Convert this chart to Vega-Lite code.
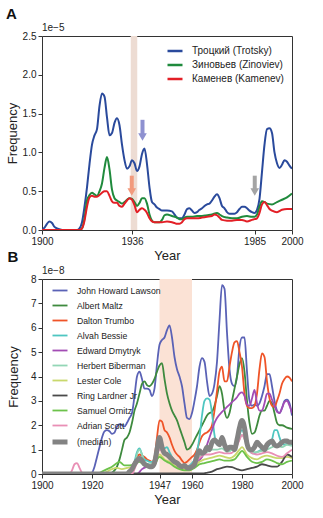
{
"$schema": "https://vega.github.io/schema/vega-lite/v6.json",
"background": "white",
"padding": {"left": 5, "top": 6, "right": 5, "bottom": 2},
"spacing": -14,
"resolve": {"scale": {"color": "independent", "strokeWidth": "independent", "stroke": "independent", "fill": "independent", "x": "independent", "y": "independent"}},
"config": {
  "font": "Liberation Sans",
  "view": {"stroke": "#333", "strokeWidth": 1},
  "axis": {"grid": false, "domain": false, "tickColor": "#333", "tickSize": 4, "labelFontSize": 10, "labelColor": "#222", "titleFontSize": 13, "titleFontWeight": "normal", "titleColor": "#222", "labelPadding": 2, "labelFlush": false, "labelOverlap": false},
  "title": {"anchor": "start", "frame": "bounds", "fontSize": 15, "fontWeight": "bold", "color": "#111", "offset": 1},
  "legend": {"orient": "none", "title": null, "symbolType": "stroke", "rowPadding": 0, "labelColor": "#222"}
},
"datasets": {
  "a": [
{"s":"Троцкий (Trotsky)","x":1900,"y":0},{"s":"Троцкий (Trotsky)","x":1901,"y":0.03},{"s":"Троцкий (Trotsky)","x":1902,"y":0.08},{"s":"Троцкий (Trotsky)","x":1903,"y":0.11},{"s":"Троцкий (Trotsky)","x":1904,"y":0.09},{"s":"Троцкий (Trotsky)","x":1905,"y":0.04},{"s":"Троцкий (Trotsky)","x":1906,"y":0.02},{"s":"Троцкий (Trotsky)","x":1907,"y":0.01},{"s":"Троцкий (Trotsky)","x":1908,"y":0},{"s":"Троцкий (Trotsky)","x":1912,"y":0},{"s":"Троцкий (Trotsky)","x":1914,"y":0},{"s":"Троцкий (Trotsky)","x":1915,"y":0.02},{"s":"Троцкий (Trotsky)","x":1916,"y":0.1},{"s":"Троцкий (Trotsky)","x":1917,"y":0.3},{"s":"Троцкий (Trotsky)","x":1918,"y":0.55},{"s":"Троцкий (Trotsky)","x":1919,"y":0.85},{"s":"Троцкий (Trotsky)","x":1920,"y":1.1},{"s":"Троцкий (Trotsky)","x":1921,"y":1.22},{"s":"Троцкий (Trotsky)","x":1922,"y":1.3},{"s":"Троцкий (Trotsky)","x":1923,"y":1.6},{"s":"Троцкий (Trotsky)","x":1924,"y":1.76},{"s":"Троцкий (Trotsky)","x":1925,"y":1.72},{"s":"Троцкий (Trotsky)","x":1926,"y":1.45},{"s":"Троцкий (Trotsky)","x":1927,"y":1.22},{"s":"Троцкий (Trotsky)","x":1928,"y":1.25},{"s":"Троцкий (Trotsky)","x":1929,"y":1.38},{"s":"Троцкий (Trotsky)","x":1930,"y":1.44},{"s":"Троцкий (Trotsky)","x":1931,"y":1.35},{"s":"Троцкий (Trotsky)","x":1932,"y":1.1},{"s":"Троцкий (Trotsky)","x":1933,"y":0.9},{"s":"Троцкий (Trotsky)","x":1934,"y":0.79},{"s":"Троцкий (Trotsky)","x":1935,"y":0.82},{"s":"Троцкий (Trotsky)","x":1936,"y":0.9},{"s":"Троцкий (Trotsky)","x":1937,"y":0.86},{"s":"Троцкий (Trotsky)","x":1938,"y":0.76},{"s":"Троцкий (Trotsky)","x":1939,"y":0.82},{"s":"Троцкий (Trotsky)","x":1940,"y":0.98},{"s":"Троцкий (Trotsky)","x":1941,"y":1.05},{"s":"Троцкий (Trotsky)","x":1942,"y":0.85},{"s":"Троцкий (Trotsky)","x":1943,"y":0.55},{"s":"Троцкий (Trotsky)","x":1944,"y":0.36},{"s":"Троцкий (Trotsky)","x":1945,"y":0.33},{"s":"Троцкий (Trotsky)","x":1946,"y":0.29},{"s":"Троцкий (Trotsky)","x":1947,"y":0.27},{"s":"Троцкий (Trotsky)","x":1948,"y":0.25},{"s":"Троцкий (Trotsky)","x":1950,"y":0.25},{"s":"Троцкий (Trotsky)","x":1952,"y":0.24},{"s":"Троцкий (Trotsky)","x":1953,"y":0.2},{"s":"Троцкий (Trotsky)","x":1954,"y":0.16},{"s":"Троцкий (Trotsky)","x":1955,"y":0.15},{"s":"Троцкий (Trotsky)","x":1956,"y":0.15},{"s":"Троцкий (Trotsky)","x":1957,"y":0.2},{"s":"Троцкий (Trotsky)","x":1958,"y":0.27},{"s":"Троцкий (Trotsky)","x":1959,"y":0.28},{"s":"Троцкий (Trotsky)","x":1960,"y":0.25},{"s":"Троцкий (Trotsky)","x":1961,"y":0.22},{"s":"Троцкий (Trotsky)","x":1962,"y":0.23},{"s":"Троцкий (Trotsky)","x":1963,"y":0.26},{"s":"Троцкий (Trotsky)","x":1964,"y":0.28},{"s":"Троцкий (Trotsky)","x":1965,"y":0.31},{"s":"Троцкий (Trotsky)","x":1966,"y":0.33},{"s":"Троцкий (Trotsky)","x":1967,"y":0.34},{"s":"Троцкий (Trotsky)","x":1968,"y":0.38},{"s":"Троцкий (Trotsky)","x":1969,"y":0.43},{"s":"Троцкий (Trotsky)","x":1970,"y":0.46},{"s":"Троцкий (Trotsky)","x":1971,"y":0.41},{"s":"Троцкий (Trotsky)","x":1972,"y":0.31},{"s":"Троцкий (Trotsky)","x":1973,"y":0.28},{"s":"Троцкий (Trotsky)","x":1974,"y":0.23},{"s":"Троцкий (Trotsky)","x":1975,"y":0.21},{"s":"Троцкий (Trotsky)","x":1977,"y":0.21},{"s":"Троцкий (Trotsky)","x":1978,"y":0.23},{"s":"Троцкий (Trotsky)","x":1979,"y":0.27},{"s":"Троцкий (Trotsky)","x":1980,"y":0.3},{"s":"Троцкий (Trotsky)","x":1981,"y":0.3},{"s":"Троцкий (Trotsky)","x":1982,"y":0.28},{"s":"Троцкий (Trotsky)","x":1983,"y":0.25},{"s":"Троцкий (Trotsky)","x":1984,"y":0.23},{"s":"Троцкий (Trotsky)","x":1985,"y":0.22},{"s":"Троцкий (Trotsky)","x":1986,"y":0.26},{"s":"Троцкий (Trotsky)","x":1987,"y":0.4},{"s":"Троцкий (Trotsky)","x":1988,"y":0.75},{"s":"Троцкий (Trotsky)","x":1989,"y":1.1},{"s":"Троцкий (Trotsky)","x":1990,"y":1.3},{"s":"Троцкий (Trotsky)","x":1991,"y":1.31},{"s":"Троцкий (Trotsky)","x":1992,"y":1.25},{"s":"Троцкий (Trotsky)","x":1993,"y":1.0},{"s":"Троцкий (Trotsky)","x":1994,"y":0.86},{"s":"Троцкий (Trotsky)","x":1995,"y":0.8},{"s":"Троцкий (Trotsky)","x":1996,"y":0.84},{"s":"Троцкий (Trotsky)","x":1997,"y":0.9},{"s":"Троцкий (Trotsky)","x":1998,"y":0.88},{"s":"Троцкий (Trotsky)","x":1999,"y":0.83},{"s":"Троцкий (Trotsky)","x":2000,"y":0.79},
{"s":"Зиновьев (Zinoviev)","x":1900,"y":0},{"s":"Зиновьев (Zinoviev)","x":1915,"y":0},{"s":"Зиновьев (Zinoviev)","x":1916,"y":0.02},{"s":"Зиновьев (Zinoviev)","x":1917,"y":0.15},{"s":"Зиновьев (Zinoviev)","x":1918,"y":0.38},{"s":"Зиновьев (Zinoviev)","x":1919,"y":0.45},{"s":"Зиновьев (Zinoviev)","x":1920,"y":0.48},{"s":"Зиновьев (Zinoviev)","x":1921,"y":0.46},{"s":"Зиновьев (Zinoviev)","x":1922,"y":0.44},{"s":"Зиновьев (Zinoviev)","x":1923,"y":0.5},{"s":"Зиновьев (Zinoviev)","x":1924,"y":0.6},{"s":"Зиновьев (Zinoviev)","x":1925,"y":0.8},{"s":"Зиновьев (Zinoviev)","x":1926,"y":0.94},{"s":"Зиновьев (Zinoviev)","x":1927,"y":0.78},{"s":"Зиновьев (Zinoviev)","x":1928,"y":0.52},{"s":"Зиновьев (Zinoviev)","x":1929,"y":0.41},{"s":"Зиновьев (Zinoviev)","x":1930,"y":0.38},{"s":"Зиновьев (Zinoviev)","x":1931,"y":0.36},{"s":"Зиновьев (Zinoviev)","x":1932,"y":0.34},{"s":"Зиновьев (Zinoviev)","x":1933,"y":0.36},{"s":"Зиновьев (Zinoviev)","x":1934,"y":0.39},{"s":"Зиновьев (Zinoviev)","x":1935,"y":0.41},{"s":"Зиновьев (Zinoviev)","x":1936,"y":0.4},{"s":"Зиновьев (Zinoviev)","x":1937,"y":0.36},{"s":"Зиновьев (Zinoviev)","x":1938,"y":0.31},{"s":"Зиновьев (Zinoviev)","x":1939,"y":0.35},{"s":"Зиновьев (Zinoviev)","x":1940,"y":0.41},{"s":"Зиновьев (Zinoviev)","x":1941,"y":0.41},{"s":"Зиновьев (Zinoviev)","x":1942,"y":0.34},{"s":"Зиновьев (Zinoviev)","x":1943,"y":0.2},{"s":"Зиновьев (Zinoviev)","x":1944,"y":0.12},{"s":"Зиновьев (Zinoviev)","x":1945,"y":0.1},{"s":"Зиновьев (Zinoviev)","x":1947,"y":0.1},{"s":"Зиновьев (Zinoviev)","x":1948,"y":0.13},{"s":"Зиновьев (Zinoviev)","x":1949,"y":0.19},{"s":"Зиновьев (Zinoviev)","x":1950,"y":0.2},{"s":"Зиновьев (Zinoviev)","x":1952,"y":0.18},{"s":"Зиновьев (Zinoviev)","x":1954,"y":0.16},{"s":"Зиновьев (Zinoviev)","x":1955,"y":0.14},{"s":"Зиновьев (Zinoviev)","x":1956,"y":0.14},{"s":"Зиновьев (Zinoviev)","x":1957,"y":0.16},{"s":"Зиновьев (Zinoviev)","x":1958,"y":0.17},{"s":"Зиновьев (Zinoviev)","x":1960,"y":0.17},{"s":"Зиновьев (Zinoviev)","x":1962,"y":0.18},{"s":"Зиновьев (Zinoviev)","x":1964,"y":0.18},{"s":"Зиновьев (Zinoviev)","x":1966,"y":0.19},{"s":"Зиновьев (Zinoviev)","x":1968,"y":0.2},{"s":"Зиновьев (Zinoviev)","x":1970,"y":0.22},{"s":"Зиновьев (Zinoviev)","x":1971,"y":0.2},{"s":"Зиновьев (Zinoviev)","x":1972,"y":0.18},{"s":"Зиновьев (Zinoviev)","x":1974,"y":0.16},{"s":"Зиновьев (Zinoviev)","x":1976,"y":0.15},{"s":"Зиновьев (Zinoviev)","x":1978,"y":0.15},{"s":"Зиновьев (Zinoviev)","x":1980,"y":0.17},{"s":"Зиновьев (Zinoviev)","x":1982,"y":0.18},{"s":"Зиновьев (Zinoviev)","x":1984,"y":0.17},{"s":"Зиновьев (Zinoviev)","x":1985,"y":0.17},{"s":"Зиновьев (Zinoviev)","x":1986,"y":0.2},{"s":"Зиновьев (Zinoviev)","x":1987,"y":0.3},{"s":"Зиновьев (Zinoviev)","x":1988,"y":0.37},{"s":"Зиновьев (Zinoviev)","x":1989,"y":0.36},{"s":"Зиновьев (Zinoviev)","x":1990,"y":0.34},{"s":"Зиновьев (Zinoviev)","x":1992,"y":0.33},{"s":"Зиновьев (Zinoviev)","x":1994,"y":0.36},{"s":"Зиновьев (Zinoviev)","x":1996,"y":0.39},{"s":"Зиновьев (Zinoviev)","x":1998,"y":0.42},{"s":"Зиновьев (Zinoviev)","x":2000,"y":0.47},
{"s":"Каменев (Kamenev)","x":1900,"y":0},{"s":"Каменев (Kamenev)","x":1915,"y":0},{"s":"Каменев (Kamenev)","x":1916,"y":0.02},{"s":"Каменев (Kamenev)","x":1917,"y":0.12},{"s":"Каменев (Kamenev)","x":1918,"y":0.3},{"s":"Каменев (Kamenev)","x":1919,"y":0.42},{"s":"Каменев (Kamenev)","x":1920,"y":0.44},{"s":"Каменев (Kamenev)","x":1921,"y":0.43},{"s":"Каменев (Kamenev)","x":1922,"y":0.43},{"s":"Каменев (Kamenev)","x":1923,"y":0.45},{"s":"Каменев (Kamenev)","x":1924,"y":0.48},{"s":"Каменев (Kamenev)","x":1925,"y":0.5},{"s":"Каменев (Kamenev)","x":1926,"y":0.5},{"s":"Каменев (Kamenev)","x":1927,"y":0.44},{"s":"Каменев (Kamenev)","x":1928,"y":0.37},{"s":"Каменев (Kamenev)","x":1929,"y":0.35},{"s":"Каменев (Kamenev)","x":1930,"y":0.35},{"s":"Каменев (Kamenev)","x":1931,"y":0.31},{"s":"Каменев (Kamenev)","x":1932,"y":0.3},{"s":"Каменев (Kamenev)","x":1933,"y":0.34},{"s":"Каменев (Kamenev)","x":1934,"y":0.38},{"s":"Каменев (Kamenev)","x":1935,"y":0.41},{"s":"Каменев (Kamenev)","x":1936,"y":0.39},{"s":"Каменев (Kamenev)","x":1937,"y":0.32},{"s":"Каменев (Kamenev)","x":1938,"y":0.23},{"s":"Каменев (Kamenev)","x":1939,"y":0.26},{"s":"Каменев (Kamenev)","x":1940,"y":0.28},{"s":"Каменев (Kamenev)","x":1941,"y":0.26},{"s":"Каменев (Kamenev)","x":1942,"y":0.22},{"s":"Каменев (Kamenev)","x":1943,"y":0.15},{"s":"Каменев (Kamenev)","x":1944,"y":0.11},{"s":"Каменев (Kamenev)","x":1945,"y":0.1},{"s":"Каменев (Kamenev)","x":1948,"y":0.1},{"s":"Каменев (Kamenev)","x":1950,"y":0.11},{"s":"Каменев (Kamenev)","x":1952,"y":0.1},{"s":"Каменев (Kamenev)","x":1953,"y":0.09},{"s":"Каменев (Kamenev)","x":1954,"y":0.08},{"s":"Каменев (Kamenev)","x":1955,"y":0.08},{"s":"Каменев (Kamenev)","x":1956,"y":0.1},{"s":"Каменев (Kamenev)","x":1957,"y":0.14},{"s":"Каменев (Kamenev)","x":1958,"y":0.15},{"s":"Каменев (Kamenev)","x":1960,"y":0.15},{"s":"Каменев (Kamenev)","x":1962,"y":0.15},{"s":"Каменев (Kamenev)","x":1964,"y":0.16},{"s":"Каменев (Kamenev)","x":1966,"y":0.17},{"s":"Каменев (Kamenev)","x":1968,"y":0.18},{"s":"Каменев (Kamenev)","x":1969,"y":0.2},{"s":"Каменев (Kamenev)","x":1970,"y":0.19},{"s":"Каменев (Kamenev)","x":1971,"y":0.16},{"s":"Каменев (Kamenev)","x":1972,"y":0.13},{"s":"Каменев (Kamenev)","x":1974,"y":0.12},{"s":"Каменев (Kamenev)","x":1976,"y":0.12},{"s":"Каменев (Kamenev)","x":1978,"y":0.13},{"s":"Каменев (Kamenev)","x":1980,"y":0.13},{"s":"Каменев (Kamenev)","x":1982,"y":0.11},{"s":"Каменев (Kamenev)","x":1984,"y":0.13},{"s":"Каменев (Kamenev)","x":1985,"y":0.14},{"s":"Каменев (Kamenev)","x":1986,"y":0.15},{"s":"Каменев (Kamenev)","x":1987,"y":0.22},{"s":"Каменев (Kamenev)","x":1988,"y":0.33},{"s":"Каменев (Kamenev)","x":1989,"y":0.36},{"s":"Каменев (Kamenev)","x":1990,"y":0.32},{"s":"Каменев (Kamenev)","x":1991,"y":0.27},{"s":"Каменев (Kamenev)","x":1992,"y":0.25},{"s":"Каменев (Kamenev)","x":1994,"y":0.23},{"s":"Каменев (Kamenev)","x":1996,"y":0.26},{"s":"Каменев (Kamenev)","x":1998,"y":0.27},{"s":"Каменев (Kamenev)","x":2000,"y":0.27}
  ],
  "arrows": [
    {"k":"Trotsky","x":1940.2,"y":1.42,"y2":1.23,"yh":1.2},
    {"k":"Kamenev","x":1935.9,"y":0.7,"y2":0.51,"yh":0.49},
    {"k":"1985","x":1985.1,"y":0.7,"y2":0.51,"yh":0.49}
  ],
  "b": [
{"s":"John Howard Lawson","x":1900,"y":0},{"s":"John Howard Lawson","x":1919,"y":0},{"s":"John Howard Lawson","x":1920,"y":0.05},{"s":"John Howard Lawson","x":1921,"y":0.3},{"s":"John Howard Lawson","x":1922,"y":0.7},{"s":"John Howard Lawson","x":1923,"y":1.1},{"s":"John Howard Lawson","x":1924,"y":1.5},{"s":"John Howard Lawson","x":1925,"y":1.75},{"s":"John Howard Lawson","x":1926,"y":1.8},{"s":"John Howard Lawson","x":1927,"y":1.75},{"s":"John Howard Lawson","x":1928,"y":1.65},{"s":"John Howard Lawson","x":1929,"y":1.7},{"s":"John Howard Lawson","x":1930,"y":1.95},{"s":"John Howard Lawson","x":1931,"y":2.05},{"s":"John Howard Lawson","x":1932,"y":2.0},{"s":"John Howard Lawson","x":1933,"y":1.95},{"s":"John Howard Lawson","x":1934,"y":2.1},{"s":"John Howard Lawson","x":1935,"y":2.3},{"s":"John Howard Lawson","x":1936,"y":2.5},{"s":"John Howard Lawson","x":1937,"y":3.2},{"s":"John Howard Lawson","x":1938,"y":4.0},{"s":"John Howard Lawson","x":1939,"y":4.2},{"s":"John Howard Lawson","x":1940,"y":3.9},{"s":"John Howard Lawson","x":1941,"y":3.5},{"s":"John Howard Lawson","x":1942,"y":3.5},{"s":"John Howard Lawson","x":1943,"y":3.45},{"s":"John Howard Lawson","x":1944,"y":3.2},{"s":"John Howard Lawson","x":1945,"y":3.5},{"s":"John Howard Lawson","x":1946,"y":4.5},{"s":"John Howard Lawson","x":1947,"y":5.3},{"s":"John Howard Lawson","x":1948,"y":5.5},{"s":"John Howard Lawson","x":1949,"y":5.6},{"s":"John Howard Lawson","x":1950,"y":5.9},{"s":"John Howard Lawson","x":1951,"y":6.1},{"s":"John Howard Lawson","x":1952,"y":5.6},{"s":"John Howard Lawson","x":1953,"y":4.8},{"s":"John Howard Lawson","x":1954,"y":4.3},{"s":"John Howard Lawson","x":1955,"y":4.0},{"s":"John Howard Lawson","x":1956,"y":3.6},{"s":"John Howard Lawson","x":1957,"y":2.9},{"s":"John Howard Lawson","x":1958,"y":2.3},{"s":"John Howard Lawson","x":1959,"y":2.25},{"s":"John Howard Lawson","x":1960,"y":2.5},{"s":"John Howard Lawson","x":1961,"y":3.0},{"s":"John Howard Lawson","x":1962,"y":3.6},{"s":"John Howard Lawson","x":1963,"y":4.4},{"s":"John Howard Lawson","x":1964,"y":4.75},{"s":"John Howard Lawson","x":1965,"y":4.6},{"s":"John Howard Lawson","x":1966,"y":3.8},{"s":"John Howard Lawson","x":1967,"y":3.2},{"s":"John Howard Lawson","x":1968,"y":3.3},{"s":"John Howard Lawson","x":1969,"y":3.7},{"s":"John Howard Lawson","x":1970,"y":4.6},{"s":"John Howard Lawson","x":1971,"y":6.3},{"s":"John Howard Lawson","x":1972,"y":7.75},{"s":"John Howard Lawson","x":1973,"y":7.6},{"s":"John Howard Lawson","x":1974,"y":5.8},{"s":"John Howard Lawson","x":1975,"y":4.3},{"s":"John Howard Lawson","x":1976,"y":3.7},{"s":"John Howard Lawson","x":1977,"y":3.6},{"s":"John Howard Lawson","x":1978,"y":4.0},{"s":"John Howard Lawson","x":1979,"y":5.2},{"s":"John Howard Lawson","x":1980,"y":5.6},{"s":"John Howard Lawson","x":1981,"y":5.6},{"s":"John Howard Lawson","x":1982,"y":4.2},{"s":"John Howard Lawson","x":1983,"y":3.0},{"s":"John Howard Lawson","x":1984,"y":2.8},{"s":"John Howard Lawson","x":1985,"y":2.85},{"s":"John Howard Lawson","x":1986,"y":2.8},{"s":"John Howard Lawson","x":1987,"y":2.9},{"s":"John Howard Lawson","x":1988,"y":3.2},{"s":"John Howard Lawson","x":1989,"y":3.6},{"s":"John Howard Lawson","x":1990,"y":4.1},{"s":"John Howard Lawson","x":1991,"y":4.1},{"s":"John Howard Lawson","x":1992,"y":3.6},{"s":"John Howard Lawson","x":1993,"y":3.0},{"s":"John Howard Lawson","x":1994,"y":2.6},{"s":"John Howard Lawson","x":1995,"y":2.5},{"s":"John Howard Lawson","x":1996,"y":2.7},{"s":"John Howard Lawson","x":1997,"y":3.0},{"s":"John Howard Lawson","x":1998,"y":3.05},{"s":"John Howard Lawson","x":1999,"y":2.9},{"s":"John Howard Lawson","x":2000,"y":2.4},
{"s":"Albert Maltz","x":1900,"y":0},{"s":"Albert Maltz","x":1927,"y":0},{"s":"Albert Maltz","x":1928,"y":0.05},{"s":"Albert Maltz","x":1929,"y":0.15},{"s":"Albert Maltz","x":1930,"y":0.3},{"s":"Albert Maltz","x":1931,"y":0.6},{"s":"Albert Maltz","x":1932,"y":1.0},{"s":"Albert Maltz","x":1933,"y":1.4},{"s":"Albert Maltz","x":1934,"y":1.5},{"s":"Albert Maltz","x":1935,"y":1.7},{"s":"Albert Maltz","x":1936,"y":2.1},{"s":"Albert Maltz","x":1937,"y":2.6},{"s":"Albert Maltz","x":1938,"y":2.9},{"s":"Albert Maltz","x":1939,"y":3.3},{"s":"Albert Maltz","x":1940,"y":3.7},{"s":"Albert Maltz","x":1941,"y":3.8},{"s":"Albert Maltz","x":1942,"y":3.65},{"s":"Albert Maltz","x":1943,"y":3.6},{"s":"Albert Maltz","x":1944,"y":3.7},{"s":"Albert Maltz","x":1945,"y":3.9},{"s":"Albert Maltz","x":1946,"y":4.2},{"s":"Albert Maltz","x":1947,"y":4.45},{"s":"Albert Maltz","x":1948,"y":4.55},{"s":"Albert Maltz","x":1949,"y":3.9},{"s":"Albert Maltz","x":1950,"y":3.3},{"s":"Albert Maltz","x":1951,"y":2.9},{"s":"Albert Maltz","x":1952,"y":2.6},{"s":"Albert Maltz","x":1953,"y":2.4},{"s":"Albert Maltz","x":1954,"y":2.2},{"s":"Albert Maltz","x":1955,"y":1.9},{"s":"Albert Maltz","x":1956,"y":1.6},{"s":"Albert Maltz","x":1957,"y":1.3},{"s":"Albert Maltz","x":1958,"y":1.0},{"s":"Albert Maltz","x":1959,"y":1.05},{"s":"Albert Maltz","x":1960,"y":1.2},{"s":"Albert Maltz","x":1961,"y":1.4},{"s":"Albert Maltz","x":1962,"y":1.6},{"s":"Albert Maltz","x":1963,"y":1.8},{"s":"Albert Maltz","x":1964,"y":2.0},{"s":"Albert Maltz","x":1965,"y":2.2},{"s":"Albert Maltz","x":1966,"y":2.4},{"s":"Albert Maltz","x":1967,"y":2.5},{"s":"Albert Maltz","x":1968,"y":2.55},{"s":"Albert Maltz","x":1969,"y":2.8},{"s":"Albert Maltz","x":1970,"y":3.2},{"s":"Albert Maltz","x":1971,"y":3.6},{"s":"Albert Maltz","x":1972,"y":3.3},{"s":"Albert Maltz","x":1973,"y":2.6},{"s":"Albert Maltz","x":1974,"y":2.3},{"s":"Albert Maltz","x":1975,"y":2.5},{"s":"Albert Maltz","x":1976,"y":3.0},{"s":"Albert Maltz","x":1977,"y":3.5},{"s":"Albert Maltz","x":1978,"y":4.0},{"s":"Albert Maltz","x":1979,"y":4.5},{"s":"Albert Maltz","x":1980,"y":4.75},{"s":"Albert Maltz","x":1981,"y":4.2},{"s":"Albert Maltz","x":1982,"y":3.0},{"s":"Albert Maltz","x":1983,"y":2.1},{"s":"Albert Maltz","x":1984,"y":1.65},{"s":"Albert Maltz","x":1985,"y":1.7},{"s":"Albert Maltz","x":1986,"y":2.0},{"s":"Albert Maltz","x":1987,"y":2.4},{"s":"Albert Maltz","x":1988,"y":2.6},{"s":"Albert Maltz","x":1989,"y":2.6},{"s":"Albert Maltz","x":1990,"y":2.8},{"s":"Albert Maltz","x":1991,"y":3.0},{"s":"Albert Maltz","x":1992,"y":2.9},{"s":"Albert Maltz","x":1993,"y":2.5},{"s":"Albert Maltz","x":1994,"y":2.1},{"s":"Albert Maltz","x":1995,"y":2.0},{"s":"Albert Maltz","x":1996,"y":2.0},{"s":"Albert Maltz","x":1998,"y":1.9},{"s":"Albert Maltz","x":2000,"y":1.85},
{"s":"Dalton Trumbo","x":1900,"y":0},{"s":"Dalton Trumbo","x":1934,"y":0},{"s":"Dalton Trumbo","x":1935,"y":0.1},{"s":"Dalton Trumbo","x":1936,"y":0.3},{"s":"Dalton Trumbo","x":1937,"y":0.5},{"s":"Dalton Trumbo","x":1938,"y":0.7},{"s":"Dalton Trumbo","x":1939,"y":0.8},{"s":"Dalton Trumbo","x":1940,"y":0.75},{"s":"Dalton Trumbo","x":1941,"y":0.7},{"s":"Dalton Trumbo","x":1942,"y":0.6},{"s":"Dalton Trumbo","x":1943,"y":0.55},{"s":"Dalton Trumbo","x":1944,"y":0.5},{"s":"Dalton Trumbo","x":1945,"y":0.7},{"s":"Dalton Trumbo","x":1946,"y":1.5},{"s":"Dalton Trumbo","x":1947,"y":2.2},{"s":"Dalton Trumbo","x":1948,"y":2.15},{"s":"Dalton Trumbo","x":1949,"y":1.8},{"s":"Dalton Trumbo","x":1950,"y":1.7},{"s":"Dalton Trumbo","x":1951,"y":1.5},{"s":"Dalton Trumbo","x":1952,"y":1.2},{"s":"Dalton Trumbo","x":1953,"y":0.95},{"s":"Dalton Trumbo","x":1954,"y":0.8},{"s":"Dalton Trumbo","x":1955,"y":0.7},{"s":"Dalton Trumbo","x":1956,"y":0.55},{"s":"Dalton Trumbo","x":1957,"y":0.45},{"s":"Dalton Trumbo","x":1958,"y":0.5},{"s":"Dalton Trumbo","x":1959,"y":0.6},{"s":"Dalton Trumbo","x":1960,"y":0.7},{"s":"Dalton Trumbo","x":1961,"y":0.8},{"s":"Dalton Trumbo","x":1962,"y":1.0},{"s":"Dalton Trumbo","x":1963,"y":1.3},{"s":"Dalton Trumbo","x":1964,"y":1.55},{"s":"Dalton Trumbo","x":1965,"y":1.65},{"s":"Dalton Trumbo","x":1966,"y":1.7},{"s":"Dalton Trumbo","x":1967,"y":1.8},{"s":"Dalton Trumbo","x":1968,"y":2.0},{"s":"Dalton Trumbo","x":1969,"y":2.6},{"s":"Dalton Trumbo","x":1970,"y":3.4},{"s":"Dalton Trumbo","x":1971,"y":4.2},{"s":"Dalton Trumbo","x":1972,"y":4.4},{"s":"Dalton Trumbo","x":1973,"y":3.8},{"s":"Dalton Trumbo","x":1974,"y":3.8},{"s":"Dalton Trumbo","x":1975,"y":4.4},{"s":"Dalton Trumbo","x":1976,"y":5.0},{"s":"Dalton Trumbo","x":1977,"y":5.4},{"s":"Dalton Trumbo","x":1978,"y":5.45},{"s":"Dalton Trumbo","x":1979,"y":5.0},{"s":"Dalton Trumbo","x":1980,"y":4.4},{"s":"Dalton Trumbo","x":1981,"y":3.3},{"s":"Dalton Trumbo","x":1982,"y":2.8},{"s":"Dalton Trumbo","x":1983,"y":2.7},{"s":"Dalton Trumbo","x":1984,"y":2.7},{"s":"Dalton Trumbo","x":1985,"y":2.8},{"s":"Dalton Trumbo","x":1986,"y":3.3},{"s":"Dalton Trumbo","x":1987,"y":4.3},{"s":"Dalton Trumbo","x":1988,"y":4.95},{"s":"Dalton Trumbo","x":1989,"y":4.8},{"s":"Dalton Trumbo","x":1990,"y":3.8},{"s":"Dalton Trumbo","x":1991,"y":3.1},{"s":"Dalton Trumbo","x":1992,"y":2.8},{"s":"Dalton Trumbo","x":1993,"y":2.75},{"s":"Dalton Trumbo","x":1994,"y":3.0},{"s":"Dalton Trumbo","x":1995,"y":3.3},{"s":"Dalton Trumbo","x":1996,"y":3.7},{"s":"Dalton Trumbo","x":1997,"y":3.9},{"s":"Dalton Trumbo","x":1998,"y":4.0},{"s":"Dalton Trumbo","x":1999,"y":3.95},{"s":"Dalton Trumbo","x":2000,"y":3.8},
{"s":"Alvah Bessie","x":1900,"y":0},{"s":"Alvah Bessie","x":1935,"y":0},{"s":"Alvah Bessie","x":1936,"y":0.2},{"s":"Alvah Bessie","x":1937,"y":0.5},{"s":"Alvah Bessie","x":1938,"y":0.9},{"s":"Alvah Bessie","x":1939,"y":1.05},{"s":"Alvah Bessie","x":1940,"y":0.8},{"s":"Alvah Bessie","x":1941,"y":0.6},{"s":"Alvah Bessie","x":1942,"y":0.55},{"s":"Alvah Bessie","x":1943,"y":0.5},{"s":"Alvah Bessie","x":1944,"y":0.5},{"s":"Alvah Bessie","x":1945,"y":0.6},{"s":"Alvah Bessie","x":1946,"y":1.1},{"s":"Alvah Bessie","x":1947,"y":1.5},{"s":"Alvah Bessie","x":1948,"y":1.2},{"s":"Alvah Bessie","x":1949,"y":1.05},{"s":"Alvah Bessie","x":1950,"y":1.1},{"s":"Alvah Bessie","x":1951,"y":0.9},{"s":"Alvah Bessie","x":1952,"y":0.7},{"s":"Alvah Bessie","x":1953,"y":0.55},{"s":"Alvah Bessie","x":1954,"y":0.45},{"s":"Alvah Bessie","x":1955,"y":0.4},{"s":"Alvah Bessie","x":1956,"y":0.35},{"s":"Alvah Bessie","x":1957,"y":0.3},{"s":"Alvah Bessie","x":1958,"y":0.3},{"s":"Alvah Bessie","x":1959,"y":0.35},{"s":"Alvah Bessie","x":1960,"y":0.45},{"s":"Alvah Bessie","x":1961,"y":0.6},{"s":"Alvah Bessie","x":1962,"y":0.9},{"s":"Alvah Bessie","x":1963,"y":1.5},{"s":"Alvah Bessie","x":1964,"y":2.4},{"s":"Alvah Bessie","x":1965,"y":3.0},{"s":"Alvah Bessie","x":1966,"y":3.1},{"s":"Alvah Bessie","x":1967,"y":3.05},{"s":"Alvah Bessie","x":1968,"y":2.5},{"s":"Alvah Bessie","x":1969,"y":1.6},{"s":"Alvah Bessie","x":1970,"y":1.2},{"s":"Alvah Bessie","x":1971,"y":1.2},{"s":"Alvah Bessie","x":1972,"y":1.3},{"s":"Alvah Bessie","x":1973,"y":1.2},{"s":"Alvah Bessie","x":1974,"y":1.0},{"s":"Alvah Bessie","x":1975,"y":0.95},{"s":"Alvah Bessie","x":1976,"y":1.0},{"s":"Alvah Bessie","x":1977,"y":1.0},{"s":"Alvah Bessie","x":1978,"y":1.2},{"s":"Alvah Bessie","x":1979,"y":1.6},{"s":"Alvah Bessie","x":1980,"y":1.8},{"s":"Alvah Bessie","x":1981,"y":1.6},{"s":"Alvah Bessie","x":1982,"y":1.2},{"s":"Alvah Bessie","x":1983,"y":0.95},{"s":"Alvah Bessie","x":1984,"y":0.85},{"s":"Alvah Bessie","x":1985,"y":0.85},{"s":"Alvah Bessie","x":1986,"y":0.9},{"s":"Alvah Bessie","x":1987,"y":0.95},{"s":"Alvah Bessie","x":1988,"y":1.0},{"s":"Alvah Bessie","x":1989,"y":1.0},{"s":"Alvah Bessie","x":1990,"y":1.1},{"s":"Alvah Bessie","x":1991,"y":1.2},{"s":"Alvah Bessie","x":1992,"y":1.4},{"s":"Alvah Bessie","x":1993,"y":1.8},{"s":"Alvah Bessie","x":1994,"y":1.8},{"s":"Alvah Bessie","x":1995,"y":1.5},{"s":"Alvah Bessie","x":1996,"y":1.25},{"s":"Alvah Bessie","x":1997,"y":1.2},{"s":"Alvah Bessie","x":1998,"y":1.25},{"s":"Alvah Bessie","x":1999,"y":1.3},{"s":"Alvah Bessie","x":2000,"y":1.2},
{"s":"Edward Dmytryk","x":1900,"y":0},{"s":"Edward Dmytryk","x":1938,"y":0},{"s":"Edward Dmytryk","x":1940,"y":0.2},{"s":"Edward Dmytryk","x":1942,"y":0.3},{"s":"Edward Dmytryk","x":1944,"y":0.35},{"s":"Edward Dmytryk","x":1945,"y":0.5},{"s":"Edward Dmytryk","x":1946,"y":1.0},{"s":"Edward Dmytryk","x":1947,"y":1.3},{"s":"Edward Dmytryk","x":1948,"y":1.1},{"s":"Edward Dmytryk","x":1949,"y":0.9},{"s":"Edward Dmytryk","x":1950,"y":0.8},{"s":"Edward Dmytryk","x":1952,"y":0.6},{"s":"Edward Dmytryk","x":1954,"y":0.45},{"s":"Edward Dmytryk","x":1956,"y":0.35},{"s":"Edward Dmytryk","x":1958,"y":0.3},{"s":"Edward Dmytryk","x":1960,"y":0.35},{"s":"Edward Dmytryk","x":1962,"y":0.5},{"s":"Edward Dmytryk","x":1964,"y":0.7},{"s":"Edward Dmytryk","x":1965,"y":0.9},{"s":"Edward Dmytryk","x":1966,"y":1.2},{"s":"Edward Dmytryk","x":1967,"y":1.5},{"s":"Edward Dmytryk","x":1968,"y":1.8},{"s":"Edward Dmytryk","x":1969,"y":2.1},{"s":"Edward Dmytryk","x":1970,"y":2.3},{"s":"Edward Dmytryk","x":1972,"y":2.55},{"s":"Edward Dmytryk","x":1974,"y":2.75},{"s":"Edward Dmytryk","x":1976,"y":2.95},{"s":"Edward Dmytryk","x":1978,"y":3.15},{"s":"Edward Dmytryk","x":1979,"y":3.3},{"s":"Edward Dmytryk","x":1980,"y":3.35},{"s":"Edward Dmytryk","x":1981,"y":3.2},{"s":"Edward Dmytryk","x":1982,"y":2.85},{"s":"Edward Dmytryk","x":1983,"y":2.8},{"s":"Edward Dmytryk","x":1984,"y":3.1},{"s":"Edward Dmytryk","x":1985,"y":3.45},{"s":"Edward Dmytryk","x":1986,"y":2.9},{"s":"Edward Dmytryk","x":1987,"y":2.6},{"s":"Edward Dmytryk","x":1988,"y":2.6},{"s":"Edward Dmytryk","x":1989,"y":2.9},{"s":"Edward Dmytryk","x":1990,"y":3.3},{"s":"Edward Dmytryk","x":1991,"y":3.3},{"s":"Edward Dmytryk","x":1992,"y":3.05},{"s":"Edward Dmytryk","x":1993,"y":2.8},{"s":"Edward Dmytryk","x":1994,"y":2.55},{"s":"Edward Dmytryk","x":1995,"y":2.5},{"s":"Edward Dmytryk","x":1996,"y":2.7},{"s":"Edward Dmytryk","x":1997,"y":2.95},{"s":"Edward Dmytryk","x":1998,"y":3.0},{"s":"Edward Dmytryk","x":1999,"y":2.8},{"s":"Edward Dmytryk","x":2000,"y":2.5},
{"s":"Herbert Biberman","x":1900,"y":0},{"s":"Herbert Biberman","x":1936,"y":0},{"s":"Herbert Biberman","x":1937,"y":0.3},{"s":"Herbert Biberman","x":1938,"y":0.8},{"s":"Herbert Biberman","x":1939,"y":1.0},{"s":"Herbert Biberman","x":1940,"y":0.8},{"s":"Herbert Biberman","x":1941,"y":0.5},{"s":"Herbert Biberman","x":1943,"y":0.4},{"s":"Herbert Biberman","x":1945,"y":0.5},{"s":"Herbert Biberman","x":1946,"y":1.0},{"s":"Herbert Biberman","x":1947,"y":1.3},{"s":"Herbert Biberman","x":1948,"y":1.0},{"s":"Herbert Biberman","x":1950,"y":0.8},{"s":"Herbert Biberman","x":1952,"y":0.55},{"s":"Herbert Biberman","x":1954,"y":0.4},{"s":"Herbert Biberman","x":1956,"y":0.3},{"s":"Herbert Biberman","x":1958,"y":0.25},{"s":"Herbert Biberman","x":1960,"y":0.3},{"s":"Herbert Biberman","x":1962,"y":0.6},{"s":"Herbert Biberman","x":1964,"y":0.8},{"s":"Herbert Biberman","x":1966,"y":0.9},{"s":"Herbert Biberman","x":1968,"y":1.0},{"s":"Herbert Biberman","x":1970,"y":1.0},{"s":"Herbert Biberman","x":1972,"y":1.05},{"s":"Herbert Biberman","x":1974,"y":0.9},{"s":"Herbert Biberman","x":1976,"y":1.0},{"s":"Herbert Biberman","x":1978,"y":1.2},{"s":"Herbert Biberman","x":1980,"y":1.6},{"s":"Herbert Biberman","x":1982,"y":1.2},{"s":"Herbert Biberman","x":1984,"y":0.9},{"s":"Herbert Biberman","x":1986,"y":0.9},{"s":"Herbert Biberman","x":1988,"y":0.95},{"s":"Herbert Biberman","x":1990,"y":1.0},{"s":"Herbert Biberman","x":1992,"y":1.1},{"s":"Herbert Biberman","x":1994,"y":1.2},{"s":"Herbert Biberman","x":1996,"y":1.1},{"s":"Herbert Biberman","x":1998,"y":1.2},{"s":"Herbert Biberman","x":2000,"y":1.15},
{"s":"Lester Cole","x":1900,"y":0},{"s":"Lester Cole","x":1924,"y":0},{"s":"Lester Cole","x":1926,"y":0.1},{"s":"Lester Cole","x":1928,"y":0.2},{"s":"Lester Cole","x":1930,"y":0.25},{"s":"Lester Cole","x":1932,"y":0.2},{"s":"Lester Cole","x":1934,"y":0.25},{"s":"Lester Cole","x":1936,"y":0.3},{"s":"Lester Cole","x":1938,"y":0.5},{"s":"Lester Cole","x":1939,"y":0.6},{"s":"Lester Cole","x":1941,"y":0.4},{"s":"Lester Cole","x":1943,"y":0.3},{"s":"Lester Cole","x":1945,"y":0.35},{"s":"Lester Cole","x":1947,"y":0.8},{"s":"Lester Cole","x":1949,"y":0.6},{"s":"Lester Cole","x":1951,"y":0.5},{"s":"Lester Cole","x":1953,"y":0.35},{"s":"Lester Cole","x":1955,"y":0.25},{"s":"Lester Cole","x":1957,"y":0.2},{"s":"Lester Cole","x":1959,"y":0.2},{"s":"Lester Cole","x":1961,"y":0.3},{"s":"Lester Cole","x":1963,"y":0.5},{"s":"Lester Cole","x":1965,"y":0.6},{"s":"Lester Cole","x":1967,"y":0.65},{"s":"Lester Cole","x":1969,"y":0.7},{"s":"Lester Cole","x":1971,"y":0.75},{"s":"Lester Cole","x":1973,"y":0.7},{"s":"Lester Cole","x":1975,"y":0.65},{"s":"Lester Cole","x":1977,"y":0.75},{"s":"Lester Cole","x":1979,"y":1.0},{"s":"Lester Cole","x":1980,"y":1.1},{"s":"Lester Cole","x":1982,"y":0.8},{"s":"Lester Cole","x":1984,"y":0.65},{"s":"Lester Cole","x":1986,"y":0.6},{"s":"Lester Cole","x":1988,"y":0.7},{"s":"Lester Cole","x":1990,"y":0.75},{"s":"Lester Cole","x":1992,"y":0.7},{"s":"Lester Cole","x":1994,"y":0.65},{"s":"Lester Cole","x":1996,"y":0.65},{"s":"Lester Cole","x":1998,"y":0.7},{"s":"Lester Cole","x":2000,"y":0.65},
{"s":"Ring Lardner Jr","x":1900,"y":0},{"s":"Ring Lardner Jr","x":1925,"y":0.02},{"s":"Ring Lardner Jr","x":1964,"y":0.02},{"s":"Ring Lardner Jr","x":1966,"y":0.05},{"s":"Ring Lardner Jr","x":1968,"y":0.1},{"s":"Ring Lardner Jr","x":1970,"y":0.2},{"s":"Ring Lardner Jr","x":1972,"y":0.25},{"s":"Ring Lardner Jr","x":1974,"y":0.3},{"s":"Ring Lardner Jr","x":1976,"y":0.28},{"s":"Ring Lardner Jr","x":1978,"y":0.2},{"s":"Ring Lardner Jr","x":1980,"y":0.15},{"s":"Ring Lardner Jr","x":1982,"y":0.2},{"s":"Ring Lardner Jr","x":1984,"y":0.25},{"s":"Ring Lardner Jr","x":1986,"y":0.3},{"s":"Ring Lardner Jr","x":1988,"y":0.4},{"s":"Ring Lardner Jr","x":1990,"y":0.35},{"s":"Ring Lardner Jr","x":1992,"y":0.3},{"s":"Ring Lardner Jr","x":1994,"y":0.3},{"s":"Ring Lardner Jr","x":1996,"y":0.5},{"s":"Ring Lardner Jr","x":1998,"y":0.8},{"s":"Ring Lardner Jr","x":2000,"y":0.7},
{"s":"Samuel Ornitz","x":1900,"y":0},{"s":"Samuel Ornitz","x":1922,"y":0},{"s":"Samuel Ornitz","x":1924,"y":0.1},{"s":"Samuel Ornitz","x":1926,"y":0.2},{"s":"Samuel Ornitz","x":1928,"y":0.3},{"s":"Samuel Ornitz","x":1930,"y":0.45},{"s":"Samuel Ornitz","x":1931,"y":0.5},{"s":"Samuel Ornitz","x":1933,"y":0.35},{"s":"Samuel Ornitz","x":1935,"y":0.35},{"s":"Samuel Ornitz","x":1937,"y":0.4},{"s":"Samuel Ornitz","x":1939,"y":0.5},{"s":"Samuel Ornitz","x":1941,"y":0.35},{"s":"Samuel Ornitz","x":1943,"y":0.3},{"s":"Samuel Ornitz","x":1945,"y":0.4},{"s":"Samuel Ornitz","x":1947,"y":0.7},{"s":"Samuel Ornitz","x":1949,"y":0.55},{"s":"Samuel Ornitz","x":1951,"y":0.45},{"s":"Samuel Ornitz","x":1953,"y":0.3},{"s":"Samuel Ornitz","x":1955,"y":0.2},{"s":"Samuel Ornitz","x":1957,"y":0.15},{"s":"Samuel Ornitz","x":1959,"y":0.15},{"s":"Samuel Ornitz","x":1961,"y":0.25},{"s":"Samuel Ornitz","x":1963,"y":0.4},{"s":"Samuel Ornitz","x":1965,"y":0.45},{"s":"Samuel Ornitz","x":1967,"y":0.5},{"s":"Samuel Ornitz","x":1969,"y":0.55},{"s":"Samuel Ornitz","x":1971,"y":0.6},{"s":"Samuel Ornitz","x":1973,"y":0.55},{"s":"Samuel Ornitz","x":1975,"y":0.55},{"s":"Samuel Ornitz","x":1977,"y":0.6},{"s":"Samuel Ornitz","x":1979,"y":0.85},{"s":"Samuel Ornitz","x":1980,"y":0.95},{"s":"Samuel Ornitz","x":1982,"y":0.7},{"s":"Samuel Ornitz","x":1984,"y":0.5},{"s":"Samuel Ornitz","x":1986,"y":0.45},{"s":"Samuel Ornitz","x":1988,"y":0.5},{"s":"Samuel Ornitz","x":1990,"y":0.6},{"s":"Samuel Ornitz","x":1992,"y":0.55},{"s":"Samuel Ornitz","x":1994,"y":0.45},{"s":"Samuel Ornitz","x":1996,"y":0.4},{"s":"Samuel Ornitz","x":1998,"y":0.5},{"s":"Samuel Ornitz","x":2000,"y":0.55},
{"s":"Adrian Scott","x":1900,"y":0},{"s":"Adrian Scott","x":1911,"y":0},{"s":"Adrian Scott","x":1912,"y":0.15},{"s":"Adrian Scott","x":1913,"y":0.4},{"s":"Adrian Scott","x":1914,"y":0.45},{"s":"Adrian Scott","x":1915,"y":0.25},{"s":"Adrian Scott","x":1916,"y":0.05},{"s":"Adrian Scott","x":1917,"y":0},{"s":"Adrian Scott","x":1936,"y":0},{"s":"Adrian Scott","x":1937,"y":0.2},{"s":"Adrian Scott","x":1938,"y":0.45},{"s":"Adrian Scott","x":1939,"y":0.55},{"s":"Adrian Scott","x":1941,"y":0.4},{"s":"Adrian Scott","x":1943,"y":0.35},{"s":"Adrian Scott","x":1945,"y":0.45},{"s":"Adrian Scott","x":1947,"y":1.0},{"s":"Adrian Scott","x":1949,"y":0.8},{"s":"Adrian Scott","x":1951,"y":0.65},{"s":"Adrian Scott","x":1953,"y":0.45},{"s":"Adrian Scott","x":1955,"y":0.3},{"s":"Adrian Scott","x":1957,"y":0.25},{"s":"Adrian Scott","x":1959,"y":0.3},{"s":"Adrian Scott","x":1961,"y":0.45},{"s":"Adrian Scott","x":1963,"y":0.65},{"s":"Adrian Scott","x":1965,"y":0.8},{"s":"Adrian Scott","x":1967,"y":0.8},{"s":"Adrian Scott","x":1969,"y":0.85},{"s":"Adrian Scott","x":1971,"y":0.9},{"s":"Adrian Scott","x":1973,"y":0.85},{"s":"Adrian Scott","x":1975,"y":0.85},{"s":"Adrian Scott","x":1977,"y":0.95},{"s":"Adrian Scott","x":1979,"y":1.4},{"s":"Adrian Scott","x":1980,"y":1.6},{"s":"Adrian Scott","x":1982,"y":1.2},{"s":"Adrian Scott","x":1984,"y":0.85},{"s":"Adrian Scott","x":1986,"y":0.8},{"s":"Adrian Scott","x":1988,"y":0.85},{"s":"Adrian Scott","x":1990,"y":0.9},{"s":"Adrian Scott","x":1992,"y":0.85},{"s":"Adrian Scott","x":1994,"y":0.75},{"s":"Adrian Scott","x":1996,"y":0.7},{"s":"Adrian Scott","x":1998,"y":0.85},{"s":"Adrian Scott","x":2000,"y":1.0},
{"s":"(median)","x":1900,"y":0},{"s":"(median)","x":1934,"y":0},{"s":"(median)","x":1935,"y":0.1},{"s":"(median)","x":1936,"y":0.2},{"s":"(median)","x":1937,"y":0.4},{"s":"(median)","x":1938,"y":0.55},{"s":"(median)","x":1939,"y":0.65},{"s":"(median)","x":1940,"y":0.55},{"s":"(median)","x":1941,"y":0.4},{"s":"(median)","x":1942,"y":0.35},{"s":"(median)","x":1943,"y":0.3},{"s":"(median)","x":1944,"y":0.3},{"s":"(median)","x":1945,"y":0.45},{"s":"(median)","x":1946,"y":1.0},{"s":"(median)","x":1947,"y":1.5},{"s":"(median)","x":1948,"y":1.1},{"s":"(median)","x":1949,"y":0.85},{"s":"(median)","x":1950,"y":0.8},{"s":"(median)","x":1951,"y":0.7},{"s":"(median)","x":1952,"y":0.6},{"s":"(median)","x":1953,"y":0.5},{"s":"(median)","x":1954,"y":0.45},{"s":"(median)","x":1955,"y":0.35},{"s":"(median)","x":1956,"y":0.3},{"s":"(median)","x":1957,"y":0.35},{"s":"(median)","x":1958,"y":0.25},{"s":"(median)","x":1959,"y":0.25},{"s":"(median)","x":1960,"y":0.3},{"s":"(median)","x":1961,"y":0.4},{"s":"(median)","x":1962,"y":0.75},{"s":"(median)","x":1963,"y":0.95},{"s":"(median)","x":1964,"y":0.85},{"s":"(median)","x":1965,"y":0.9},{"s":"(median)","x":1966,"y":1.1},{"s":"(median)","x":1967,"y":1.0},{"s":"(median)","x":1968,"y":1.3},{"s":"(median)","x":1969,"y":1.4},{"s":"(median)","x":1970,"y":1.3},{"s":"(median)","x":1971,"y":1.2},{"s":"(median)","x":1972,"y":1.5},{"s":"(median)","x":1973,"y":1.2},{"s":"(median)","x":1974,"y":1.0},{"s":"(median)","x":1975,"y":1.1},{"s":"(median)","x":1976,"y":1.1},{"s":"(median)","x":1977,"y":1.0},{"s":"(median)","x":1978,"y":1.4},{"s":"(median)","x":1979,"y":1.9},{"s":"(median)","x":1980,"y":2.2},{"s":"(median)","x":1981,"y":1.9},{"s":"(median)","x":1982,"y":1.25},{"s":"(median)","x":1983,"y":1.0},{"s":"(median)","x":1984,"y":1.0},{"s":"(median)","x":1985,"y":1.1},{"s":"(median)","x":1986,"y":1.3},{"s":"(median)","x":1987,"y":1.2},{"s":"(median)","x":1988,"y":1.1},{"s":"(median)","x":1989,"y":1.0},{"s":"(median)","x":1990,"y":1.2},{"s":"(median)","x":1991,"y":1.3},{"s":"(median)","x":1992,"y":1.35},{"s":"(median)","x":1993,"y":1.2},{"s":"(median)","x":1994,"y":1.15},{"s":"(median)","x":1995,"y":1.2},{"s":"(median)","x":1996,"y":1.3},{"s":"(median)","x":1997,"y":1.35},{"s":"(median)","x":1998,"y":1.35},{"s":"(median)","x":1999,"y":1.3},{"s":"(median)","x":2000,"y":1.3}
  ]
},
"vconcat": [
  {
    "title": {"text": "A"},
    "width": 250, "height": 194,
    "layer": [
      {
        "data": {"values": [{"from": 1935.5, "to": 1938.1, "lo": 0, "hi": 2.5}]},
        "mark": {"type": "rect", "color": "#eddcd3"},
        "encoding": {
          "x": {"field": "from", "type": "quantitative", "scale": {"domain": [1900, 2000], "nice": false, "zero": false},
                "axis": {"values": [1900, 1936, 1985, 2000], "tickCount": 10, "format": "d", "title": "Year", "titlePadding": 3, "labelOverlap": false}},
          "x2": {"field": "to"},
          "y": {"field": "lo", "type": "quantitative", "scale": {"domain": [0, 2.5], "nice": false},
                "axis": {"values": [0, 0.5, 1, 1.5, 2, 2.5], "tickCount": 10, "format": ".1f", "title": "Frequency", "titlePadding": 3, "labelOverlap": false}},
          "y2": {"field": "hi"}
        }
      },
      {
        "data": {"name": "a"},
        "mark": {"type": "line", "interpolate": "monotone", "strokeWidth": 2, "clip": true},
        "encoding": {
          "x": {"field": "x", "type": "quantitative"},
          "y": {"field": "y", "type": "quantitative"},
          "color": {"field": "s", "type": "nominal",
                    "scale": {"domain": ["Троцкий (Trotsky)", "Зиновьев (Zinoviev)", "Каменев (Kamenev)"], "range": ["#2a4a9c", "#1f8a3c", "#e31f26"]},
                    "legend": {"legendX": 124, "legendY": 6, "labelFontSize": 10, "symbolSize": 225, "symbolStrokeWidth": 2.5, "labelOffset": 8, "rowPadding": -2}}
        }
      },
      {
        "data": {"name": "arrows"},
        "mark": {"type": "rule", "strokeWidth": 4},
        "encoding": {
          "x": {"field": "x", "type": "quantitative"},
          "y": {"field": "y", "type": "quantitative"},
          "y2": {"field": "y2"},
          "stroke": {"field": "k", "type": "nominal", "scale": {"domain": ["Trotsky", "Kamenev", "1985"], "range": ["#8e91d0", "#f29a7d", "#a4a4a4"]}, "legend": null}
        }
      },
      {
        "data": {"name": "arrows"},
        "mark": {"type": "point", "shape": "triangle-down", "size": 75, "filled": true, "opacity": 1},
        "encoding": {
          "x": {"field": "x", "type": "quantitative"},
          "y": {"field": "yh", "type": "quantitative"},
          "fill": {"field": "k", "type": "nominal", "scale": {"domain": ["Trotsky", "Kamenev", "1985"], "range": ["#8e91d0", "#f29a7d", "#a4a4a4"]}, "legend": null}
        }
      },
      {
        "data": {"values": [{}]},
        "mark": {"type": "text", "text": "1e−5", "align": "left", "baseline": "bottom", "dy": -3, "fontSize": 10, "color": "#222"},
        "encoding": {"x": {"datum": 1900}, "y": {"datum": 2.5}}
      }
    ]
  },
  {
    "title": {"text": "B"},
    "width": 250, "height": 195,
    "layer": [
      {
        "data": {"values": [{"from": 1947, "to": 1960, "lo": 0, "hi": 8}]},
        "mark": {"type": "rect", "color": "#fbe2d5"},
        "encoding": {
          "x": {"field": "from", "type": "quantitative", "scale": {"domain": [1900, 2000], "nice": false, "zero": false},
                "axis": {"values": [1900, 1920, 1947, 1960, 1980, 2000], "tickCount": 10, "format": "d", "title": "Year", "titlePadding": 3, "labelOverlap": false}},
          "x2": {"field": "to"},
          "y": {"field": "lo", "type": "quantitative", "scale": {"domain": [0, 8], "nice": false},
                "axis": {"values": [0, 1, 2, 3, 4, 5, 6, 7, 8], "tickCount": 10, "format": "d", "title": "Frequency", "titlePadding": 10, "labelOverlap": false}},
          "y2": {"field": "hi"}
        }
      },
      {
        "data": {"name": "b"},
        "mark": {"type": "line", "interpolate": "monotone", "clip": true},
        "encoding": {
          "x": {"field": "x", "type": "quantitative"},
          "y": {"field": "y", "type": "quantitative"},
          "color": {"field": "s", "type": "nominal",
                    "scale": {"domain": ["John Howard Lawson", "Albert Maltz", "Dalton Trumbo", "Alvah Bessie", "Edward Dmytryk", "Herbert Biberman", "Lester Cole", "Ring Lardner Jr", "Samuel Ornitz", "Adrian Scott", "(median)"],
                              "range": ["#5a62b6", "#3e8a3e", "#ef5428", "#4ec6c1", "#a24cb4", "#93d6b6", "#c9d86c", "#4a4a4a", "#6cc24b", "#e98fb5", "#838383"]},
                    "legend": {"legendX": 8, "legendY": 3, "labelFontSize": 8.7, "symbolSize": 225, "labelOffset": 7, "rowPadding": 1}},
          "strokeWidth": {"field": "s", "type": "nominal",
                    "scale": {"type": "ordinal", "domain": ["John Howard Lawson", "Albert Maltz", "Dalton Trumbo", "Alvah Bessie", "Edward Dmytryk", "Herbert Biberman", "Lester Cole", "Ring Lardner Jr", "Samuel Ornitz", "Adrian Scott", "(median)"],
                              "range": [1.8, 1.8, 1.8, 1.8, 1.8, 1.8, 1.8, 1.8, 1.8, 1.8, 5]},
                    "legend": {"legendX": 8, "legendY": 3, "labelFontSize": 8.7, "symbolSize": 225, "labelOffset": 7, "rowPadding": 1}}
        }
      },
      {
        "data": {"values": [{}]},
        "mark": {"type": "text", "text": "1e−8", "align": "left", "baseline": "bottom", "dy": -3, "fontSize": 10, "color": "#222"},
        "encoding": {"x": {"datum": 1900}, "y": {"datum": 8}}
      }
    ]
  }
]
}
